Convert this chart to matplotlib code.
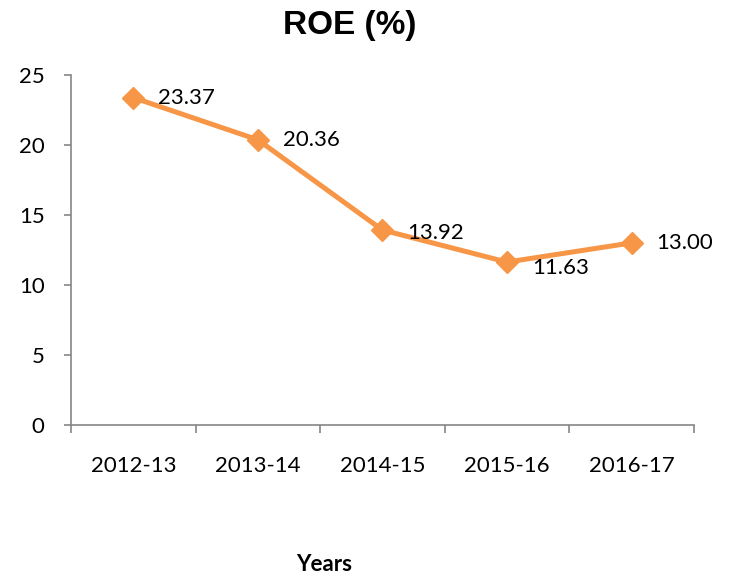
import matplotlib.pyplot as plt

years = ['2012-13', '2013-14', '2014-15', '2015-16', '2016-17']
roe = [23.37, 20.36, 13.92, 11.63, 13.00]
label_dy = [0, 0, -2, -4, 0]

fig = plt.figure(figsize=(7.31, 5.77), dpi=100)
ax = fig.add_axes([0.0971, 0.2634, 0.852, 0.607])

x = list(range(len(years)))
ax.plot(x, roe, color='#F79646', lw=3.6, marker='D', markersize=11,
        markeredgecolor='#F79646', solid_joinstyle='round')

for xi, v, dy in zip(x, roe, label_dy):
    ax.annotate(f'{v:.2f}', (xi, v), xytext=(18, dy), textcoords='offset points',
                ha='left', va='center', fontsize=16, family='Lato')

ax.set_xlim(-0.5, len(years) - 0.5)
ax.set_ylim(0, 25)
ax.set_yticks([0, 5, 10, 15, 20, 25])
ax.set_xticks(x)
ax.set_xticklabels(years)
ax.set_xticks([i - 0.5 for i in range(len(years) + 1)], minor=True)

for s in ['top', 'right']:
    ax.spines[s].set_visible(False)
for s in ['left', 'bottom']:
    ax.spines[s].set_color('#868686')
    ax.spines[s].set_linewidth(1.2)

ax.tick_params(axis='x', which='major', length=0, pad=22)
ax.tick_params(axis='x', which='minor', length=6, color='#868686', width=1.2)
ax.tick_params(axis='y', length=5, color='#868686', width=1.2, pad=14)
for lab in ax.get_xticklabels() + ax.get_yticklabels():
    lab.set_family('Lato')
    lab.set_fontsize(16)

fig.text(0.479, 0.955, 'ROE (%)', ha='center', va='center', fontsize=24,
         fontweight='bold', family='Liberation Sans')
fig.text(0.443, 0.0225, 'Years', ha='center', va='center', fontsize=16,
         fontweight='bold', family='Lato')

fig.savefig('out.png', dpi=100)
